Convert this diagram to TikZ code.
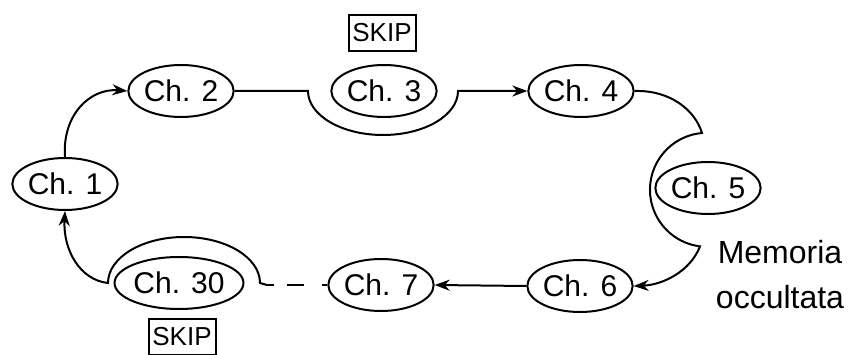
\documentclass[tikz,border=0pt]{standalone}
\usepackage{fontspec}
\setmainfont{Liberation Sans}
\usetikzlibrary{shapes.geometric,arrows.meta}
\begin{document}
\begin{tikzpicture}[x=1pt,y=-1pt,line width=2pt,
  ch/.style={draw,ellipse,minimum width=102pt,minimum height=52pt,inner sep=0pt,font=\fontsize{30}{31}\selectfont},
  skipbox/.style={draw,rectangle,minimum width=67pt,minimum height=36pt,inner sep=0pt,font=\fontsize{26}{27}\selectfont},
  arr/.style={-{Stealth[length=15pt,width=11pt]}},
  dashline/.style={dash pattern=on 7pt off 13pt on 17pt off 18pt}]
\useasboundingbox (0,0) rectangle (855,355);
\node[ch] (c1) at (65,184) {Ch. 1};
\node[ch] (c2) at (181,91) {Ch. 2};
\node[ch] (c3) at (384,91) {Ch. 3};
\node[ch] (c4) at (581,91) {Ch. 4};
\node[ch] (c5) at (708,188) {Ch. 5};
\node[ch] (c6) at (580,286) {Ch. 6};
\node[ch] (c7) at (381,285) {Ch. 7};
\node[ch] (c30) at (179,283) {Ch. 30};
\node[skipbox] (s1) at (382,33) {SKIP};
\node[skipbox] (s2) at (182,337) {SKIP};
\node[align=center,inner sep=0pt,font=\fontsize{32}{45}\selectfont] (mem) at (780,275) {Memoria\\occultata};
\coordinate (a3l) at (308,91);
\coordinate (a5t) at (702,133);
\coordinate (a30r) at (260,283);
\coordinate (d0) at (267,285);
\draw[arr] (c1.north) .. controls (62,115) and (90,88) .. (c2.west);
\draw[arr] (c2.east) -- (a3l) arc[start angle=180,end angle=360,x radius=75pt,y radius=44pt] -- (c4.west);
\draw[arr] (c4.east) .. controls (670,90) and (695,110) .. (a5t) arc[start angle=95,end angle=263,radius=57pt] .. controls (690,272) and (662,285) .. (c6.east);
\draw[arr] (c6.west) -- (c7.east);
\draw[dashline] (d0) -- (c7.west);
\draw[arr] (d0) -- (a30r) arc[start angle=0,end angle=180,x radius=76pt,y radius=46pt] .. controls (80,280) and (63,250) .. (c1.south);
\end{tikzpicture}
\end{document}
